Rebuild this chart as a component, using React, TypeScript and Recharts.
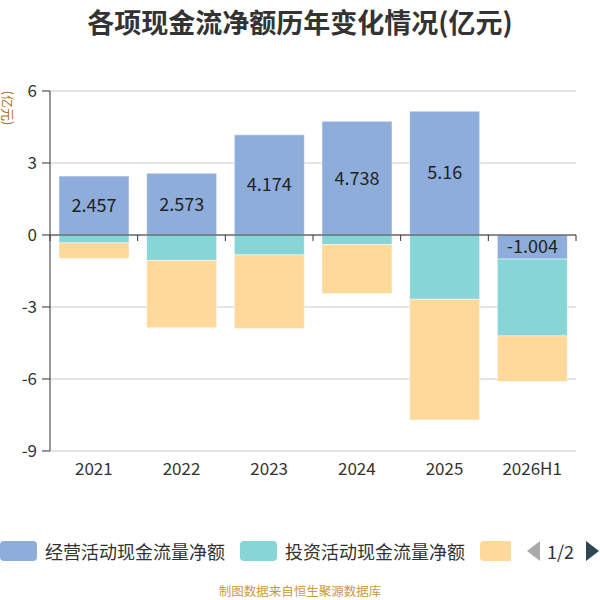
import React from "react";
import {
  BarChart,
  Bar,
  XAxis,
  YAxis,
  CartesianGrid,
  ReferenceLine,
  LabelList,
} from "recharts";

const categories = ["2021", "2022", "2023", "2024", "2025", "2026H1"];
const operating = [2.457, 2.573, 4.174, 4.738, 5.16, -1.004];
const investing = [-0.33, -1.06, -0.83, -0.4, -2.68, -3.2];
const financing = [-0.65, -2.8, -3.07, -2.04, -5.03, -1.9];
const yTicks = [6, 3, 0, -3, -6, -9];

const seriesNames = ["经营活动现金流量净额", "投资活动现金流量净额", "筹资活动现金流量净额"];
const colors = ["#8eaddb", "#88d5d8", "#ffd999"];

const data = categories.map((c, i) => ({
  name: c,
  op: operating[i],
  inv: investing[i],
  fin: financing[i],
}));

const FONT = '"Noto Sans CJK SC", "Noto Sans", sans-serif';

const ZeroLine = (props: any) => {
  const { x1, y1, x2, y2 } = props;
  const n = categories.length;
  const ticks = [];
  for (let i = 0; i <= n; i++) {
    const x = x1 + ((x2 - x1) * i) / n;
    ticks.push(<line key={i} x1={x} y1={y1} x2={x} y2={y1 + 6} stroke="#333" strokeWidth={1} />);
  }
  return (
    <g>
      <line x1={x1} y1={y1} x2={x2} y2={y2} stroke="#333" strokeWidth={1} />
      {ticks}
    </g>
  );
};

export default function App() {
  return (
    <div
      style={{
        position: "absolute",
        left: 0,
        top: 0,
        width: 600,
        height: 600,
        background: "#fff",
        fontFamily: FONT,
      }}
    >
      <div
        style={{
          position: "absolute",
          left: 0,
          top: 3,
          width: 600,
          textAlign: "center",
          fontSize: 27,
          fontWeight: "bold",
          color: "#333",
          lineHeight: "38px",
        }}
      >
        各项现金流净额历年变化情况(亿元)
      </div>
      <div
        style={{
          position: "absolute",
          left: -17,
          top: 100,
          width: 50,
          height: 16,
          lineHeight: "16px",
          fontSize: 13,
          color: "#a8711f",
          textAlign: "center",
          transform: "rotate(90deg)",
        }}
      >
        (亿元)
      </div>
      <div style={{ position: "absolute", left: 0, top: 0 }}>
        <BarChart
          width={600}
          height={600}
          data={data}
          stackOffset="sign"
          margin={{ top: 91, right: 24, left: 0, bottom: 119 }}
          barSize={70}
        >
          <CartesianGrid vertical={false} stroke="#cccccc" />
          <XAxis
            dataKey="name"
            axisLine={false}
            tickLine={false}
            height={30}
            tickMargin={6}
            tick={{ fill: "#333", fontSize: 17, fontFamily: FONT }}
            interval={0}
          />
          <YAxis
            width={50}
            domain={[-9, 6]}
            ticks={yTicks}
            interval={0}
            axisLine={{ stroke: "#333" }}
            tickLine={{ stroke: "#333" }}
            tickSize={8}
            tickMargin={5}
            tick={{ fill: "#333", fontSize: 17, fontFamily: FONT }}
          />
          <Bar dataKey="op" stackId="a" fill={colors[0]} stroke="#ffffff" strokeOpacity={0.5} isAnimationActive={false}>
            <LabelList dataKey="op" position="center" fill="#222" fontSize={18} fontFamily={FONT} />
          </Bar>
          <Bar dataKey="inv" stackId="a" fill={colors[1]} stroke="#ffffff" strokeOpacity={0.5} isAnimationActive={false} />
          <Bar dataKey="fin" stackId="a" fill={colors[2]} stroke="#ffffff" strokeOpacity={0.5} isAnimationActive={false} />
          <ReferenceLine y={0} stroke="#333" shape={ZeroLine} />
        </BarChart>
      </div>
      {/* legend */}
      <div style={{ position: "absolute", left: 0, top: 541, height: 20, width: 600 }}>
        <div style={{ position: "absolute", left: 0, top: 0, width: 37, height: 20, borderRadius: 4, background: colors[0] }} />
        <div style={{ position: "absolute", left: 45, top: -3, fontSize: 18, lineHeight: "26px", color: "#333", whiteSpace: "nowrap" }}>
          {seriesNames[0]}
        </div>
        <div style={{ position: "absolute", left: 240, top: 0, width: 37, height: 20, borderRadius: 4, background: colors[1] }} />
        <div style={{ position: "absolute", left: 285, top: -3, fontSize: 18, lineHeight: "26px", color: "#333", whiteSpace: "nowrap" }}>
          {seriesNames[1]}
        </div>
        <div style={{ position: "absolute", left: 480, top: 0, width: 31, height: 20, borderRadius: "4px 0 0 4px", background: colors[2] }} />
        <svg style={{ position: "absolute", left: 526, top: 0 }} width={15} height={20}>
          <polygon points="14,0 14,20 1,10" fill="#aaaaaa" />
        </svg>
        <div style={{ position: "absolute", left: 547, top: -3, fontSize: 18, lineHeight: "26px", color: "#333" }}>1/2</div>
        <svg style={{ position: "absolute", left: 586, top: 0 }} width={14} height={20}>
          <polygon points="0,0 0,20 13,10" fill="#2f4554" />
        </svg>
      </div>
      <div
        style={{
          position: "absolute",
          left: 0,
          top: 582,
          width: 600,
          textAlign: "center",
          fontSize: 12.5,
          color: "#c89b3c",
          lineHeight: "18px",
        }}
      >
        制图数据来自恒生聚源数据库
      </div>
    </div>
  );
}
